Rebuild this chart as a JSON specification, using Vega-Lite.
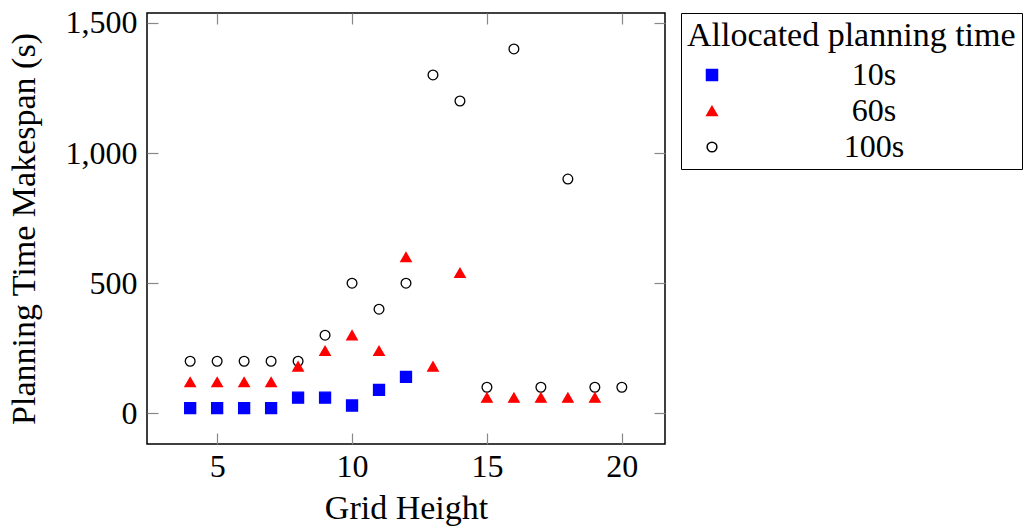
{
  "$schema": "https://vega.github.io/schema/vega-lite/v6.json",
  "width": 518,
  "height": 431,
  "autosize": {"type": "none"},
  "padding": {"left": 147, "top": 13, "right": 362, "bottom": 86},
  "background": "white",
  "config": {
    "font": "Liberation Serif",
    "view": {"stroke": "black", "strokeWidth": 1.5},
    "axis": {
      "grid": false,
      "domain": false,
      "tickColor": "#888888",
      "tickWidth": 1.2,
      "tickSize": -11,
      "labelFont": "Liberation Serif",
      "labelFontSize": 32,
      "labelColor": "black",
      "titleFont": "Liberation Serif",
      "titleFontSize": 34,
      "titleFontWeight": "normal",
      "titleColor": "black"
    }
  },
  "data": {
    "values": [
      {"h": 4, "t": 200, "alloc": "100s"},
      {"h": 5, "t": 200, "alloc": "100s"},
      {"h": 6, "t": 200, "alloc": "100s"},
      {"h": 7, "t": 200, "alloc": "100s"},
      {"h": 8, "t": 200, "alloc": "100s"},
      {"h": 9, "t": 300, "alloc": "100s"},
      {"h": 10, "t": 500, "alloc": "100s"},
      {"h": 11, "t": 400, "alloc": "100s"},
      {"h": 12, "t": 500, "alloc": "100s"},
      {"h": 13, "t": 1300, "alloc": "100s"},
      {"h": 14, "t": 1200, "alloc": "100s"},
      {"h": 15, "t": 100, "alloc": "100s"},
      {"h": 16, "t": 1400, "alloc": "100s"},
      {"h": 17, "t": 100, "alloc": "100s"},
      {"h": 18, "t": 900, "alloc": "100s"},
      {"h": 19, "t": 100, "alloc": "100s"},
      {"h": 20, "t": 100, "alloc": "100s"},
      {"h": 4, "t": 120, "alloc": "60s"},
      {"h": 5, "t": 120, "alloc": "60s"},
      {"h": 6, "t": 120, "alloc": "60s"},
      {"h": 7, "t": 120, "alloc": "60s"},
      {"h": 8, "t": 180, "alloc": "60s"},
      {"h": 9, "t": 240, "alloc": "60s"},
      {"h": 10, "t": 300, "alloc": "60s"},
      {"h": 11, "t": 240, "alloc": "60s"},
      {"h": 12, "t": 600, "alloc": "60s"},
      {"h": 13, "t": 180, "alloc": "60s"},
      {"h": 14, "t": 540, "alloc": "60s"},
      {"h": 15, "t": 60, "alloc": "60s"},
      {"h": 16, "t": 60, "alloc": "60s"},
      {"h": 17, "t": 60, "alloc": "60s"},
      {"h": 18, "t": 60, "alloc": "60s"},
      {"h": 19, "t": 60, "alloc": "60s"},
      {"h": 4, "t": 20, "alloc": "10s"},
      {"h": 5, "t": 20, "alloc": "10s"},
      {"h": 6, "t": 20, "alloc": "10s"},
      {"h": 7, "t": 20, "alloc": "10s"},
      {"h": 8, "t": 60, "alloc": "10s"},
      {"h": 9, "t": 60, "alloc": "10s"},
      {"h": 10, "t": 30, "alloc": "10s"},
      {"h": 11, "t": 90, "alloc": "10s"},
      {"h": 12, "t": 140, "alloc": "10s"}
    ]
  },
  "layer": [
    {
      "mark": {"type": "point", "strokeWidth": 1.3, "opacity": 1},
      "encoding": {
        "x": {
          "field": "h", "type": "quantitative",
          "scale": {"domain": [2.4, 21.6], "nice": false, "zero": false},
          "axis": {"values": [5, 10, 15, 20], "title": "Grid Height", "labelPadding": 18, "titlePadding": 9}
        },
        "y": {
          "field": "t", "type": "quantitative",
          "scale": {"domain": [-118, 1538], "nice": false, "zero": false},
          "axis": {"values": [0, 500, 1000, 1500], "format": ",d", "title": "Planning Time Makespan (s)", "labelPadding": 21, "titlePadding": 24}
        },
        "shape": {
          "field": "alloc", "type": "nominal",
          "scale": {"domain": ["10s", "60s", "100s"], "range": ["square", "triangle-up", "circle"]},
          "legend": {
            "title": "Allocated planning time",
            "orient": "none",
            "legendX": 534,
            "legendY": 0,
            "strokeColor": "black",
            "fillColor": "white",
            "padding": 6,
            "titleFont": "Liberation Serif",
            "titleFontSize": 34,
            "titleFontWeight": "normal",
            "titleColor": "black",
            "titleLimit": 600,
            "titlePadding": 6,
            "labelFont": "Liberation Serif",
            "labelFontSize": 32,
            "labelColor": "black",
            "labelLimit": 400,
            "labelAlign": "center",
            "labelOffset": 146,
            "symbolOffset": 9,
            "rowPadding": 4,
            "encode": {
              "legend": {"update": {"strokeWidth": {"value": 1.3}}}
            }
          }
        },
        "fill": {
          "field": "alloc", "type": "nominal",
          "scale": {"domain": ["10s", "60s", "100s"], "range": ["#0000ff", "#ff0000", "transparent"]}
        },
        "stroke": {
          "field": "alloc", "type": "nominal",
          "scale": {"domain": ["10s", "60s", "100s"], "range": ["#0000ff", "#ff0000", "#000000"]}
        },
        "size": {
          "field": "alloc", "type": "nominal",
          "scale": {"type": "ordinal", "domain": ["10s", "60s", "100s"], "range": [121, 110, 95]}
        }
      }
    },
    {
      "mark": {"type": "point", "opacity": 0},
      "encoding": {
        "x": {
          "field": "h", "type": "quantitative",
          "axis": {"orient": "top", "values": [5, 10, 15, 20], "labels": false, "title": null}
        },
        "y": {
          "field": "t", "type": "quantitative",
          "axis": {"orient": "right", "values": [0, 500, 1000, 1500], "labels": false, "title": null}
        }
      }
    }
  ],
  "resolve": {"axis": {"x": "independent", "y": "independent"}}
}
